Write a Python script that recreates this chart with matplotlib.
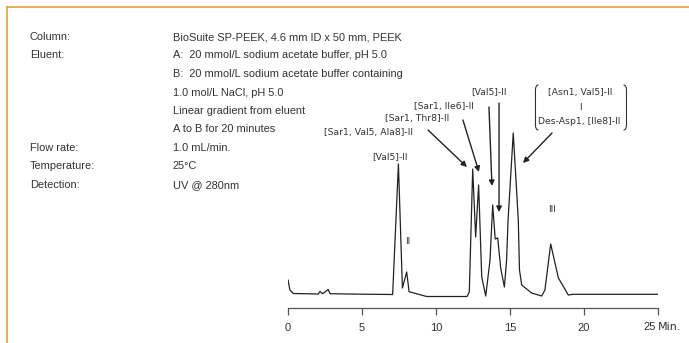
import matplotlib.pyplot as plt
from matplotlib.path import Path
from matplotlib.patches import PathPatch
import matplotlib.lines as mlines

# ------------------------- data -------------------------
time_min = [0.0, 0.13, 0.36, 2.05, 2.16, 2.34, 2.72, 2.84, 5.0, 7.07, 7.46, 7.73, 8.02, 8.18,
            9.37, 12.1, 12.25, 12.48, 12.68, 12.88, 13.09, 13.36, 13.65, 13.83, 14.0, 14.17,
            14.37, 14.62, 14.77, 14.87, 15.22, 15.56, 15.64, 15.79, 16.46, 17.14, 17.36,
            17.75, 18.04, 18.27, 18.94, 19.28, 25.0]
signal = [13, 3, -0.5, -1, 1.5, -0.7, 3.5, -0.7, -1.2, -1.5, 129, 5, 21, 1.3,
          -3.5, -3.5, 1, 124, 56, 108, 16, -3, 33, 88, 54, 55,
          25, 6, 33, 73, 160, 73, 23, 8, 0, -3, 3,
          49, 30, 15, -2, -1.3, -1.3]

xticks = [0, 5, 10, 15, 20]

info_labels = ['Column:', 'Eluent:', '', '', '', '', 'Flow rate:', 'Temperature:', 'Detection:']
info_values = ['BioSuite SP-PEEK, 4.6 mm ID x 50 mm, PEEK',
               'A:  20 mmol/L sodium acetate buffer, pH 5.0',
               'B:  20 mmol/L sodium acetate buffer containing',
               '1.0 mol/L NaCl, pH 5.0',
               'Linear gradient from eluent',
               'A to B for 20 minutes',
               '1.0 mL/min.',
               '25\u00b0C',
               'UV @ 280nm']

# (label, text x, text y, arrow start, arrow tip)
peak_notes = [
    ('[Sar1, Val5, Ala8]-II', 5.44, 161, (9.46, 163), (12.09, 126)),
    ('[Sar1, Thr8]-II', 8.75, 175, (11.82, 173), (12.9, 121)),
    ('[Sar1, Ile6]-II', 10.54, 186, (13.58, 186), (13.78, 107)),
    ('[Val5]-II', 13.58, 201, (14.26, 190), (14.26, 81)),
]

W, H = 689, 343
txt = '#333333'
plt.rcParams['font.family'] = ['Liberation Sans', 'DejaVu Sans']
nf = ['Liberation Sans Narrow', 'DejaVu Sans']
fs_note = 6.7

fig = plt.figure(figsize=(W / 100, H / 100), dpi=100)

# orange frame on top and left
fig.add_artist(mlines.Line2D([7 / W, 1], [1 - 7 / H, 1 - 7 / H], color='#f2a24a', lw=1.3))
fig.add_artist(mlines.Line2D([7 / W, 7 / W], [0, 1 - 7 / H], color='#f2a24a', lw=1.3))

# conditions block
for i, (lab, val) in enumerate(zip(info_labels, info_values)):
    yy = 1 - (37 + i * 18.5) / H
    fig.text(30 / W, yy, lab, fontsize=7.9, color=txt, va='center')
    fig.text(173 / W, yy, val, fontsize=7.9, color=txt, va='center')

ax = fig.add_axes([288 / W, (H - 308) / H, 370 / W, 308 / H])
ax.plot(time_min, signal, color='#222222', lw=0.9)
ax.set_xlim(0, 25)
ax.set_ylim(-15, 293)
for s in ['top', 'right', 'left']:
    ax.spines[s].set_visible(False)
ax.spines['bottom'].set_color('#555555')
ax.spines['bottom'].set_linewidth(0.9)
ax.set_yticks([])
ax.set_xticks(xticks + [25])
ax.set_xticklabels([str(v) for v in xticks] + [''])
ax.tick_params(axis='x', direction='out', length=5, width=0.9, color='#555555',
               labelsize=8, labelcolor=txt, pad=6)
ax.text(24.85, -34, '25', ha='right', va='center', fontsize=8, color=txt, clip_on=False)
ax.text(25.0, -34, 'Min.', ha='left', va='center', fontsize=8, color=txt,
        family=nf, clip_on=False)

ax.text(6.86, 136, '[Val5]-II', ha='center', va='center', fontsize=fs_note, color=txt, family=nf)
ax.text(8.11, 51, 'II', ha='center', va='center', fontsize=fs_note, color=txt, family=nf)
ax.text(17.84, 83, 'III', ha='center', va='center', fontsize=fs_note, color=txt, family=nf)

for lab, tx, ty, start, tip in peak_notes:
    ax.text(tx, ty, lab, ha='center', va='center', fontsize=fs_note, color=txt, family=nf)
    ax.annotate('', xy=tip, xytext=start,
                arrowprops=dict(arrowstyle='-|>', color='#222222', lw=1.0,
                                mutation_scale=8, shrinkA=0, shrinkB=0))

# bracketed pair of co-eluting peaks
ax.text(19.73, 200, '[Asn1, Val5]-II', ha='center', va='center', fontsize=fs_note, color=txt, family=nf)
ax.text(19.73, 185, 'I', ha='center', va='center', fontsize=fs_note, color=txt, family=nf)
ax.text(19.66, 172, 'Des-Asp1, [Ile8]-II', ha='center', va='center', fontsize=fs_note, color=txt, family=nf)
ax.annotate('', xy=(15.88, 130), xytext=(17.84, 160),
            arrowprops=dict(arrowstyle='-|>', color='#222222', lw=1.0,
                            mutation_scale=8, shrinkA=0, shrinkB=0))

def bracket(x0, dx, ytop, ybot, dy):
    verts = [(x0 + dx, ytop), (x0, ytop), (x0, ytop - dy), (x0, ybot + dy),
             (x0, ybot), (x0 + dx, ybot)]
    codes = [Path.MOVETO, Path.CURVE3, Path.CURVE3, Path.LINETO, Path.CURVE3, Path.CURVE3]
    ax.add_patch(PathPatch(Path(verts, codes), fill=False, color='#333333', lw=0.8))

bracket(16.72, 0.2, 208, 163, 5)
bracket(22.87, -0.2, 208, 163, 5)

fig.savefig('out.png', dpi=100)
